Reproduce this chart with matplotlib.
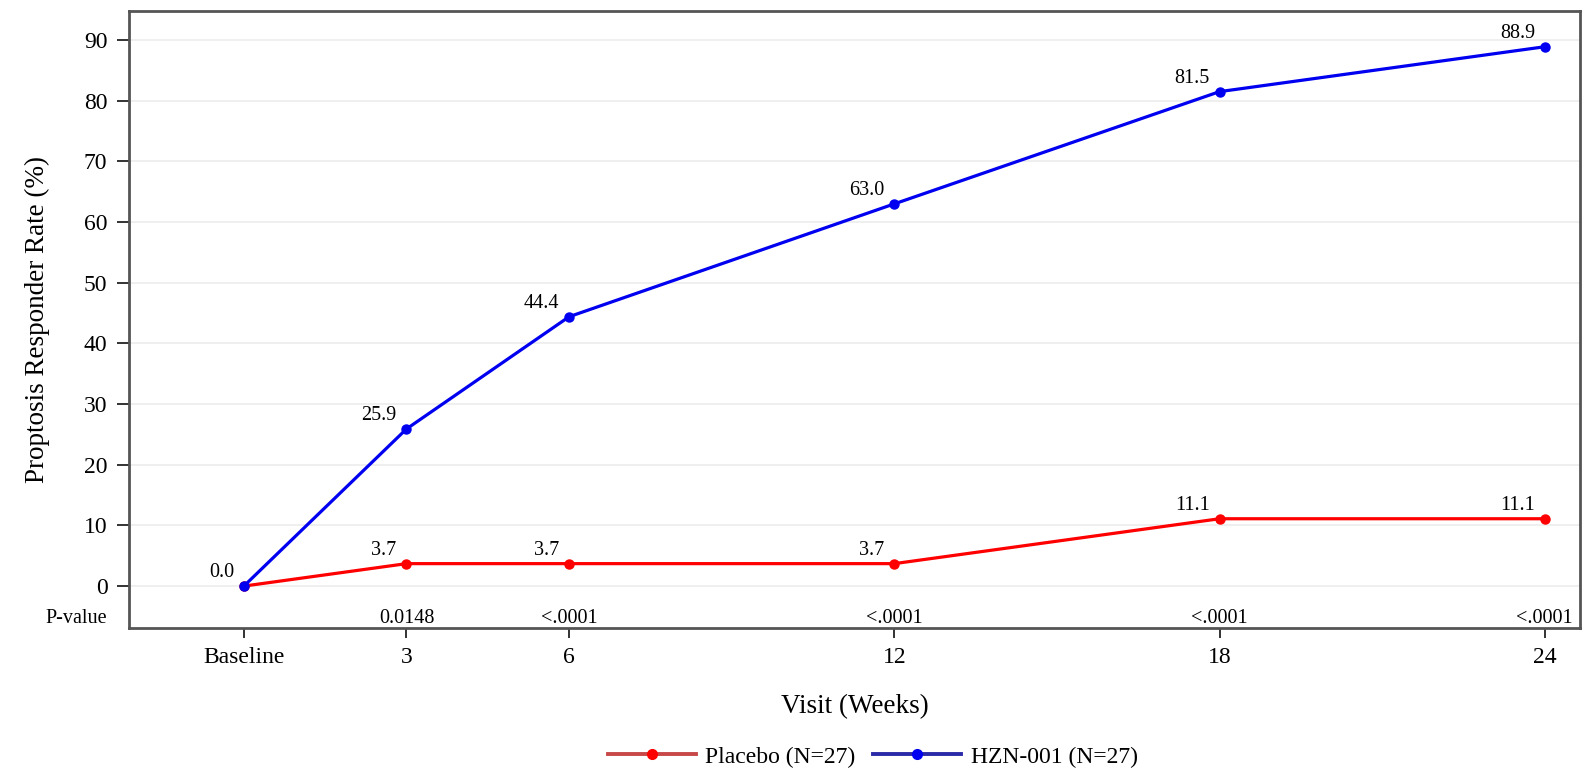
import numpy as np
import matplotlib
matplotlib.use('Agg')
import matplotlib.pyplot as plt
from matplotlib.lines import Line2D

plt.rcParams['font.family'] = ['Liberation Serif', 'DejaVu Serif']

weeks = [0, 3, 6, 12, 18, 24]
week_labels = ['Baseline', '3', '6', '12', '18', '24']
placebo = [0.0, 3.7, 3.7, 3.7, 11.1, 11.1]
hzn = [0.0, 25.9, 44.4, 63.0, 81.5, 88.9]
pvals = ['', '0.0148', '<.0001', '<.0001', '<.0001', '<.0001']

red = '#ff0000'
blue = '#0000f0'

fig = plt.figure(figsize=(15.9, 7.82), dpi=100)
ax = fig.add_axes([0.0811, 0.197, 0.9126, 0.789])

ax.set_xlim(-2.12, 24.65)
ax.set_ylim(-6.9, 94.8)
ax.set_yticks(np.arange(0, 91, 10))
ax.set_xticks(weeks)
ax.set_xticklabels(week_labels)
ax.yaxis.grid(True, color='#eeeeee', lw=1.3)
ax.set_axisbelow(True)

ax.plot(weeks, placebo, color=red, lw=2.3, marker='o', ms=6.5, zorder=3)
ax.plot(weeks, hzn, color=blue, lw=2.3, marker='o', ms=6.5, zorder=4)

# value labels, baseline 0.0 only once
for x, y in zip(weeks, hzn):
    ax.annotate('%.1f' % y, (x, y), xytext=(-7, 9.5), textcoords='offset points',
                ha='right', va='center', fontsize=14.5)
for x, y in zip(weeks[1:], placebo[1:]):
    ax.annotate('%.1f' % y, (x, y), xytext=(-7, 9.5), textcoords='offset points',
                ha='right', va='center', fontsize=14.5)

# p-value row
for x, p in zip(weeks, pvals):
    if p:
        ax.text(x, -5.4, p, ha='center', va='center', fontsize=14.5)
ax.text(-0.0152, -5.4, 'P-value', transform=ax.get_yaxis_transform(),
        ha='right', va='center', fontsize=14.5)

ax.set_xlabel('Visit (Weeks)', fontsize=19.5)
ax.set_ylabel('Proptosis Responder Rate (%)', fontsize=19.5)
ax.xaxis.set_label_coords(0.5, -0.108)
ax.yaxis.set_label_coords(-0.0544, 0.5)
ax.tick_params(axis='both', labelsize=17, width=1.4, color='#333333')
ax.tick_params(axis='x', length=7, pad=7)
ax.tick_params(axis='y', length=9, pad=6.5)
for s in ax.spines.values():
    s.set_color('#555555')
    s.set_linewidth(2)

handles = [
    Line2D([], [], color='#c84848', lw=2.8, marker='o', ms=7, mfc=red, mec=red),
    Line2D([], [], color='#2a2aa8', lw=2.8, marker='o', ms=7, mfc=blue, mec=blue),
]
fig.legend(handles, ['Placebo (N=27)', 'HZN-001 (N=27)'], loc='center',
           bbox_to_anchor=(0.549, 0.032), ncol=2, frameon=False,
           fontsize=17, handlelength=3.7, columnspacing=0.75, handletextpad=0.42)

fig.savefig('out.png', dpi=100)
